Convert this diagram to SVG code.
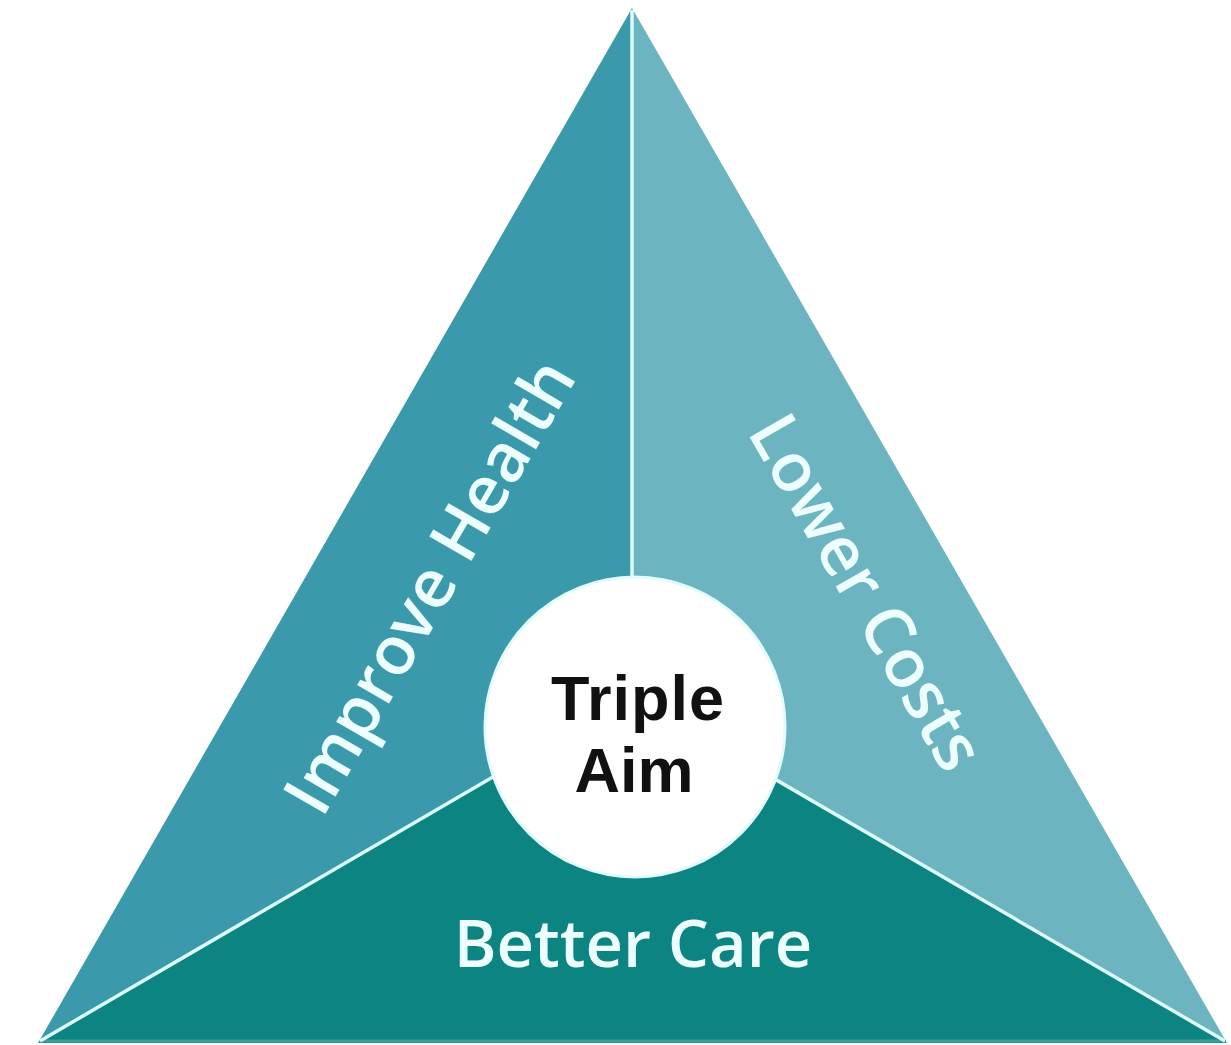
<svg xmlns="http://www.w3.org/2000/svg" width="1231" height="1045" viewBox="0 0 1231 1045">
  <style>
    .label { font-family: "Open Sans", "Liberation Sans", sans-serif; font-weight: 600; font-size: 65px; fill: #ecfefe; text-anchor: middle; }
    .slant { font-size: 68px; }
    .core { font-family: "Liberation Sans", Arial, sans-serif; font-weight: bold; font-size: 63px; fill: #111111; text-anchor: middle; }
    .divider { stroke: #dcfbfb; stroke-width: 3.5; fill: none; }
  </style>
  <rect width="1231" height="1045" fill="#ffffff"/>

  <!-- three segments of the triangle -->
  <g id="improve-health">
    <polygon points="632,8 38,1043 632,696" fill="#3a9aac"/>
    <text class="label slant" transform="translate(450,598) rotate(-60)">Improve Health</text>
  </g>
  <g id="lower-costs">
    <polygon points="632,8 632,696 1227,1043" fill="#6cb4bf"/>
    <text class="label slant" transform="translate(846,604) rotate(60)">Lower Costs</text>
  </g>
  <g id="better-care">
    <polygon points="632,696 38,1043 1227,1043" fill="#0c8482"/>
    <line x1="40" y1="1041" x2="1226" y2="1041" stroke="#3a9e99" stroke-width="3"/>
    <text class="label" x="633" y="967">Better Care</text>
  </g>

  <!-- dividers between segments -->
  <g id="connectors">
    <line class="divider" x1="632" y1="10" x2="632" y2="696"/>
    <line class="divider" x1="40" y1="1041" x2="632" y2="696"/>
    <line class="divider" x1="1225" y1="1041" x2="632" y2="696"/>
  </g>

  <!-- centre hub -->
  <g id="triple-aim">
    <circle cx="635" cy="727" r="150" fill="#ffffff" stroke="#e2fbfb" stroke-width="3"/>
    <text class="core" x="638" y="720" letter-spacing="1">Triple</text>
    <text class="core" x="634" y="792">Aim</text>
  </g>
</svg>
